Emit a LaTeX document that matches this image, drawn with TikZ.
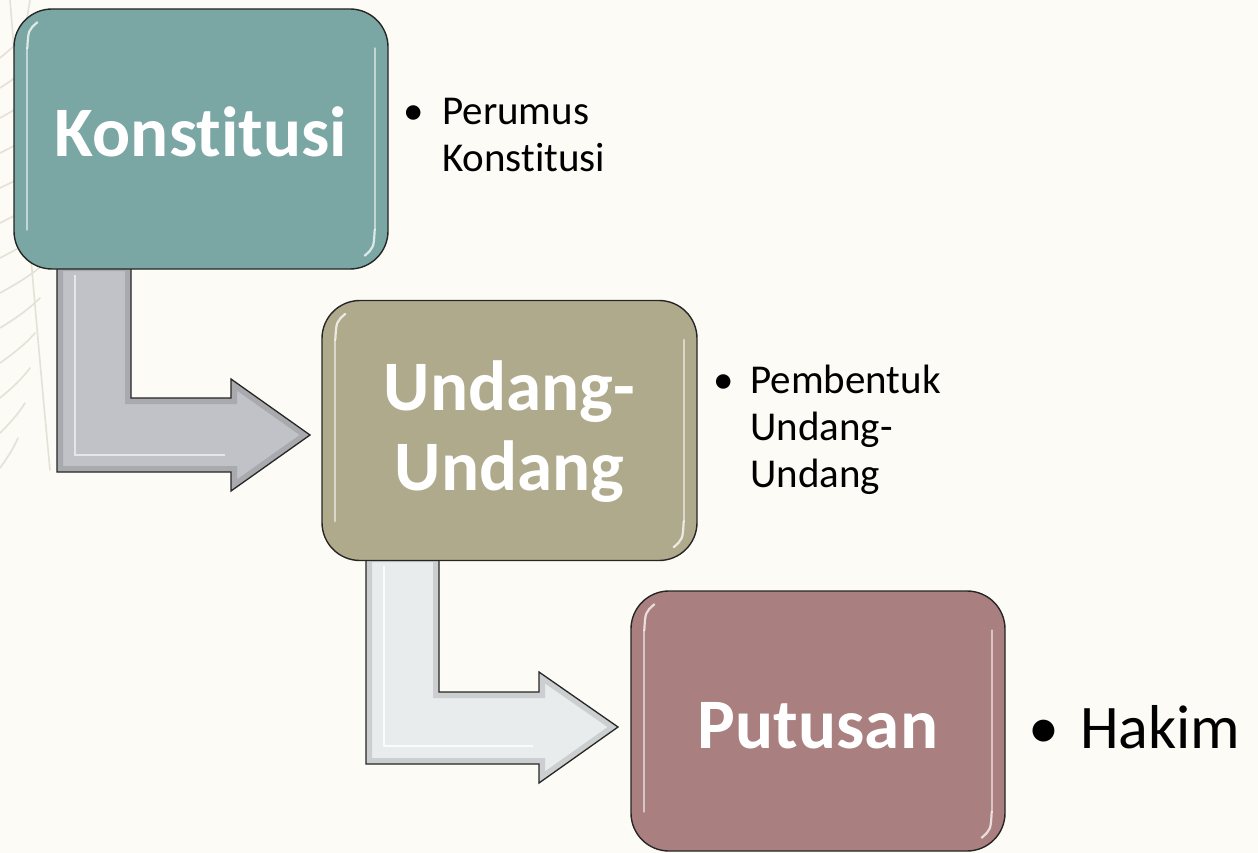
\documentclass[tikz,border=0pt]{standalone}
\usepackage{fontspec}
\setmainfont{Carlito}[Ligatures={NoCommon,NoContextual},RawFeature={-liga;-clig;-calt;-dlig}]
\usetikzlibrary{calc}
\definecolor{bgc}{HTML}{FCFBF5}
\definecolor{tealc}{HTML}{7AA6A3}
\definecolor{khakic}{HTML}{B0AA8D}
\definecolor{rosec}{HTML}{A97F7F}
\definecolor{arrowa}{HTML}{C1C2C7}
\definecolor{arrowb}{HTML}{E8ECEC}
\definecolor{leafc}{HTML}{E4E1D6}
\tikzset{
  stagebox/.style={draw=black!85, line width=1.4pt, rounded corners=38pt,
    minimum width=374pt, minimum height=260pt, inner sep=0pt},
  titletext/.style={text=white, font=\fontsize{71}{80}\selectfont\bfseries, inner sep=0pt},
  bullettext/.style={text=black, font=\fontsize{41}{47}\selectfont, inner sep=0pt, anchor=base west},
  bigtext/.style={text=black, font=\fontsize{62}{70}\selectfont, inner sep=0pt, anchor=base west},
  gloss/.style={white, line width=2.2pt, opacity=0.75, line cap=round},
  arrowshape/.style={draw=black!85, line width=1.3pt, line join=miter},
  bevel/.style={line width=12pt, opacity=0.3},
  leaf/.style={leafc, line width=1.6pt, line cap=round}
}
\begin{document}
\begin{tikzpicture}[x=1pt,y=-1pt]
\fill[bgc] (0,0) rectangle (1258,853);
\useasboundingbox (0,0) rectangle (1258,853);
% faint leaf pattern on the left
\foreach \yy/\len in {40/30,70/38,100/45,135/50,170/52,205/50,240/48,275/45,310/40,345/35,380/30,415/25,450/18}{
  \draw[leaf] (0,\yy+18) .. controls (\len*0.4,\yy+8) and (\len*0.7,\yy) .. (\len,\yy-12);
}
\draw[leaf] (10,0) .. controls (20,120) and (30,260) .. (50,470);
\draw[leaf] (30,0) .. controls (25,30) and (20,60) .. (15,90);

% arrow 1 (grey)
\path[fill=arrowa] (57,265) -- (131,265) -- (131,398) -- (231,398) -- (231,379) -- (310,435) -- (231,491) -- (231,472) -- (57,472) -- cycle;
\begin{scope}
\clip (57,265) -- (131,265) -- (131,398) -- (231,398) -- (231,379) -- (310,435) -- (231,491) -- (231,472) -- (57,472) -- cycle;
\draw[bevel, black!55] (57,265) -- (131,265) -- (131,398) -- (231,398) -- (231,379) -- (310,435) -- (231,491) -- (231,472) -- (57,472) -- cycle;
\draw[white, line width=2pt, opacity=0.6] (75,275) -- (75,455) -- (225,455);
\end{scope}
\draw[arrowshape] (57,265) -- (131,265) -- (131,398) -- (231,398) -- (231,379) -- (310,435) -- (231,491) -- (231,472) -- (57,472) -- cycle;

% arrow 2 (light)
\path[fill=arrowb] (366,556) -- (439,556) -- (439,692) -- (539,692) -- (539,672) -- (618,727) -- (539,783) -- (539,764) -- (366,764) -- cycle;
\begin{scope}
\clip (366,556) -- (439,556) -- (439,692) -- (539,692) -- (539,672) -- (618,727) -- (539,783) -- (539,764) -- (366,764) -- cycle;
\draw[bevel, black!45] (366,556) -- (439,556) -- (439,692) -- (539,692) -- (539,672) -- (618,727) -- (539,783) -- (539,764) -- (366,764) -- cycle;
\draw[white, line width=2pt, opacity=0.8] (384,566) -- (384,746) -- (533,746);
\end{scope}
\draw[arrowshape] (366,556) -- (439,556) -- (439,692) -- (539,692) -- (539,672) -- (618,727) -- (539,783) -- (539,764) -- (366,764) -- cycle;

% boxes
\node[stagebox, fill=tealc] (k) at (201,139) {};
\node[stagebox, fill=khakic, minimum width=375pt] (u) at (509.5,430.5) {};
\node[stagebox, fill=rosec] (p) at (818,721) {};

% gloss highlights
\foreach \b in {k,u,p}{
  \draw[gloss] ($(\b.north west)+(14,40)$) .. controls ($(\b.north west)+(15,22)$) .. ($(\b.north west)+(24,14)$);
  \draw[gloss, opacity=0.55] ($(\b.north west)+(14,40)$) -- ($(\b.south west)+(14,-40)$);
  \draw[gloss] ($(\b.south east)+(-14,-40)$) .. controls ($(\b.south east)+(-15,-22)$) .. ($(\b.south east)+(-24,-14)$);
  \draw[gloss, opacity=0.55] ($(\b.north east)+(-14,40)$) -- ($(\b.south east)+(-14,-40)$);
}

% titles
\node[titletext, anchor=base] (kt) at (201,157) {Konst\kern0pt it\kern0pt usi};
\node[titletext, anchor=base] (ut1) at (509.5,410) {Undang-};
\node[titletext, anchor=base] (ut2) at (509.5,490) {Undang};
\node[titletext, anchor=base] (pt) at (818,748) {Putusan};

% bullet texts
\node[bullettext] (b1) at (403,125) {•};
\node[bullettext] (k1) at (442,125) {Perumus};
\node[bullettext] (k2) at (442,172) {Konst\kern0pt it\kern0pt usi};

\node[bullettext] (b2) at (713,393) {•};
\node[bullettext] (u1) at (750,393) {Pembentuk};
\node[bullettext] (u2) at (750,440) {Undang-};
\node[bullettext] (u3) at (750,487) {Undang};

\node[bigtext] (b3) at (1028,748) {•};
\node[bigtext] (h1) at (1080,748) {Hakim};
\end{tikzpicture}
\end{document}
